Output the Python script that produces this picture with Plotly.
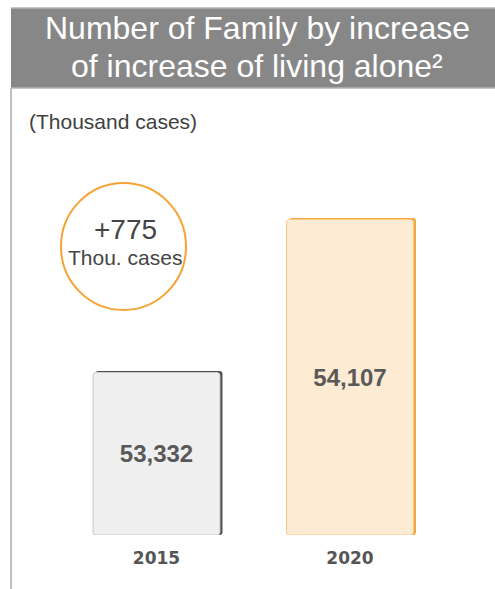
import plotly.graph_objects as go

W, H = 495, 589

# ---- data ----
years = ["2015", "2020"]
families = [53332, 54107]          # thousand cases
increase_label = "+775"
unit_label = "Thou. cases"
title_lines = ["Number of Family by increase", "of increase of living alone²"]
subtitle = "(Thousand cases)"

fills = ["#EFEFEF", "#FDEBD3"]
shadows = ["#4F4F4F", "#F4A53C"]
outlines = ["#C8C8C8", "#F9C98A"]

axis_base = 52509
axis_top = 54307

def px(x):
    return x / W

def py(y):
    return 1 - y / H

xs = list(range(len(years)))
lengths = [v - axis_base for v in families]
bw = 0.656
dx = 2.5 / 193.5
dy = 1.6 / 0.1974

fig = go.Figure()
# shadow bars
fig.add_trace(go.Bar(
    x=xs, y=[l + dy for l in lengths], base=axis_base,
    width=bw, offset=-bw / 2 + dx,
    marker=dict(color=shadows, line=dict(width=0)),
    hoverinfo="skip", showlegend=False,
))
# main bars
fig.add_trace(go.Bar(
    x=xs, y=lengths, base=axis_base,
    width=bw, offset=-bw / 2,
    marker=dict(color=fills, line=dict(color=outlines, width=1)),
    text=[f"<b>{v:,}</b>" for v in families],
    textposition="inside", insidetextanchor="middle",
    textfont=dict(family="Liberation Sans, Arial", size=24, color="#595959"),
    hoverinfo="skip", showlegend=False,
))

shapes = [
    # header band
    dict(type="rect", xref="paper", yref="paper", x0=px(11), x1=px(495), y0=py(88), y1=py(8),
         fillcolor="#878787", line=dict(width=0), layer="below"),
    dict(type="line", xref="paper", yref="paper", x0=px(11), x1=px(495), y0=py(8), y1=py(8),
         line=dict(color="#B4B4B4", width=1.5)),
    dict(type="line", xref="paper", yref="paper", x0=px(11), x1=px(495), y0=py(88), y1=py(88),
         line=dict(color="#B4B4B4", width=1.5)),
    # left frame line
    dict(type="line", xref="paper", yref="paper", x0=px(11), x1=px(11), y0=py(88), y1=0,
         line=dict(color="#ABABAB", width=1.5)),
    # circle
    dict(type="circle", xref="paper", yref="paper", x0=px(61), x1=px(186), y0=py(310), y1=py(183),
         line=dict(color="#F7A233", width=2), fillcolor="rgba(0,0,0,0)"),
]

def note(text, x, y, size, color, xanchor="center"):
    return dict(text=text, x=px(x), y=py(y), xref="paper", yref="paper",
                xanchor=xanchor, yanchor="middle", showarrow=False,
                font=dict(family="Liberation Sans, Arial", size=size, color=color))

annotations = [
    note(title_lines[0], 257, 28, 32, "#FFFFFF"),
    note(title_lines[1], 257, 66, 32, "#FFFFFF"),
    note(subtitle, 27, 121, 21, "#404040", xanchor="left"),
    note(increase_label, 126, 229, 28, "#454545"),
    note(unit_label, 125, 257, 21, "#454545"),
]

fig.update_layout(
    width=W, height=H, margin=dict(l=0, r=0, t=0, b=0),
    paper_bgcolor="#FFFFFF", plot_bgcolor="rgba(0,0,0,0)",
    barmode="overlay", barcornerradius=3,
    shapes=shapes, annotations=annotations,
    xaxis=dict(domain=[0, 1], range=[-156.5 / 193.5, 1 + 145 / 193.5],
               tickvals=xs, ticktext=[f"<b>{y}</b>" for y in years],
               tickfont=dict(family="DejaVu Sans", size=17, color="#555555"),
               showgrid=False, zeroline=False, showline=False, ticks="",
               ticklabelstandoff=11),
    yaxis=dict(domain=[py(535), py(180)], range=[axis_base, axis_top],
               visible=False, showgrid=False, zeroline=False),
)

fig.write_html("out.html")
